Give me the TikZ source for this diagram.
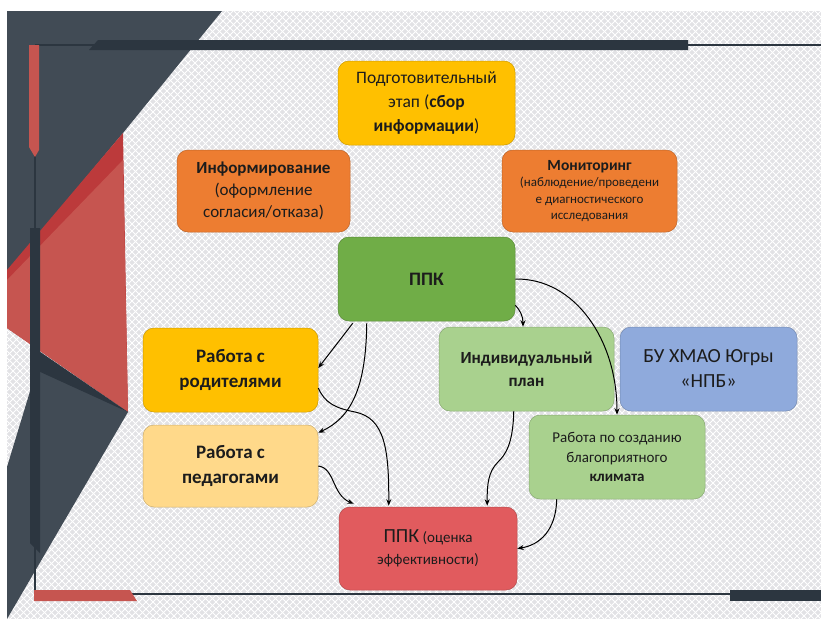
\documentclass[tikz,border=0pt]{standalone}
\usepackage{fontspec}
\setmainfont{Carlito}
\usetikzlibrary{arrows.meta,calc}
\definecolor{bgpat}{HTML}{E2E2E5}
\definecolor{slate}{HTML}{414B55}
\definecolor{slatedk}{HTML}{2C3640}
\definecolor{redlt}{HTML}{C65550}
\definecolor{reddk}{HTML}{BC3A3B}
\definecolor{gold}{HTML}{FFC000}
\definecolor{goldlt}{HTML}{FFD98A}
\definecolor{orng}{HTML}{ED7D31}
\definecolor{grn}{HTML}{70AD47}
\definecolor{grnlt}{HTML}{A9D18E}
\definecolor{blu}{HTML}{8FAADC}
\definecolor{redbox}{HTML}{E15B5E}
\definecolor{txt}{HTML}{1C1C1C}
\begin{document}
\begin{tikzpicture}[x=1pt,y=-1pt,
  box/.style={draw=#1!80!black, fill=#1, rounded corners=11pt, inner sep=0pt,
    align=center, text=txt, line width=0.5pt},
  conn/.style={-{Stealth[length=6.5pt,width=5pt]}, line width=1pt, black}]
\useasboundingbox (0,0) rectangle (821,619);
\fill[white] (0,0) rectangle (821,619);
% slide background
\fill[bgpat] (7,11) rectangle (821,619);
\begin{scope}
  \clip (7,11) rectangle (821,619);
  \foreach \i in {-620,-613,...,830} {
    \draw[white, line width=0.8pt] (\i,11) -- ++(608,608);
    \draw[white, line width=0.8pt] (\i,619) -- ++(608,-608);
  }
\end{scope}
% decorative shapes
\fill[slate] (7,11) -- (222,11) -- (123,133) -- (7,272) -- cycle;
\fill[reddk] (123,133) -- (128,412) -- (7,328) -- (7,270) -- cycle;
\fill[redlt] (123,160) -- (128,412) -- (7,328) -- (7,280) -- cycle;
\fill[slate] (38,365) -- (128,412) -- (7,619) -- (7,467) -- cycle;
\fill[slatedk] (36,349) -- (128,412) -- (36,370) -- cycle;
% frame
\draw[slatedk, line width=1.5pt] (35,45) -- (821,45);
\draw[slatedk, line width=1.5pt] (35,45) -- (35,594);
\draw[slatedk, line width=1.5pt] (35,594) -- (821,594);
\fill[slatedk] (98,40) -- (688,40) -- (688,50) -- (89,50) -- cycle;
\fill[redlt] (29,45) -- (39,45) -- (39,150) -- (35,157) -- (29,147) -- cycle;
\fill[slatedk] (30,228) -- (40,228) -- (40,553) -- (30,543) -- cycle;
\fill[redlt] (34,590) -- (130,590) -- (137,601) -- (34,601) -- cycle;
\fill[slatedk] (730,590) -- (821,590) -- (821,601) -- (730,601) -- cycle;
% boxes
\node[box=gold, minimum width=177pt, minimum height=84pt, font=\fontsize{17.5}{24}\selectfont]
  (prep) at (426.5,103) {Подготовительный\\этап (\textbf{сбор}\\\textbf{информации})};
\node[box=orng, minimum width=173pt, minimum height=82pt, font=\fontsize{17}{22}\selectfont]
  (inform) at (263.5,191) {\textbf{Информирование}\\(оформление\\согласия/отказа)};
\node[box=orng, minimum width=175pt, minimum height=82pt, font=\fontsize{13}{16.5}\selectfont]
  (monit) at (589.5,191) {{\fontsize{15.5}{17}\selectfont\textbf{Мониторинг}}\\(наблюдение/проведени\\е диагностического\\исследования};
\node[box=grn, minimum width=177pt, minimum height=84pt, font=\fontsize{19}{24}\selectfont\bfseries]
  (ppk) at (426.5,279) {ППК};
\node[box=gold, minimum width=175pt, minimum height=84pt, font=\fontsize{19}{25}\selectfont\bfseries]
  (par) at (230.5,370) {Работа с\\родителями};
\node[box=goldlt, minimum width=175pt, minimum height=82pt, font=\fontsize{19}{25}\selectfont\bfseries]
  (ped) at (230.5,466) {Работа с\\педагогами};
\node[box=redbox, minimum width=178pt, minimum height=83pt, font=\fontsize{15}{22}\selectfont]
  (eval) at (428,548.5) {{\fontsize{20}{22}\selectfont ППК} (оценка\\эффективности)};
\node[box=grnlt, minimum width=175pt, minimum height=84pt, font=\fontsize{17}{23}\selectfont\bfseries]
  (plan) at (526.5,369) {Индивидуальный\\план};
\node[box=blu, minimum width=177pt, minimum height=84pt, font=\fontsize{20}{25}\selectfont]
  (npb) at (708.5,369) {БУ ХМАО Югры\\«НПБ»};
\node[box=grnlt, minimum width=176pt, minimum height=84pt, font=\fontsize{15}{19.5}\selectfont]
  (clim) at (617,457) {Работа по созданию\\благоприятного\\\textbf{климата}};
% connectors
\draw[conn] ($(ppk.south east)+(0,-16)$) .. controls (520,310) and (523,316) .. (plan.north -| 523,0);
\draw[conn] (ppk.east) .. controls (575,278) and (617,340) .. (clim.north);
\draw[conn] ($(ppk.south west)+(15,2)$) -- ($(par.east)+(0,-2)$);
\draw[conn] ($(ppk.south west)+(29,2)$) .. controls (366,390) and (350,418) .. ($(ped.north east)+(0,8)$);
\draw[conn] ($(par.east)+(0,18)$) .. controls (325,403) and (335,408) .. (355,412)
  .. controls (385,418) and (389,450) .. ($(eval.north west)+(50,-1)$);
\draw[conn] (ped.east) .. controls (335,468) and (332,495) .. ($(eval.north west)+(15,-3)$);
\draw[conn] ($(plan.south west)+(75,0)$) .. controls (513,445) and (505,455) .. (498,462)
  .. controls (488,472) and (487,485) .. ($(eval.north east)+(-30,-1)$);
\draw[conn] ($(clim.south west)+(28,0)$) .. controls (556,530) and (540,545) .. (eval.east);
\end{tikzpicture}
\end{document}
